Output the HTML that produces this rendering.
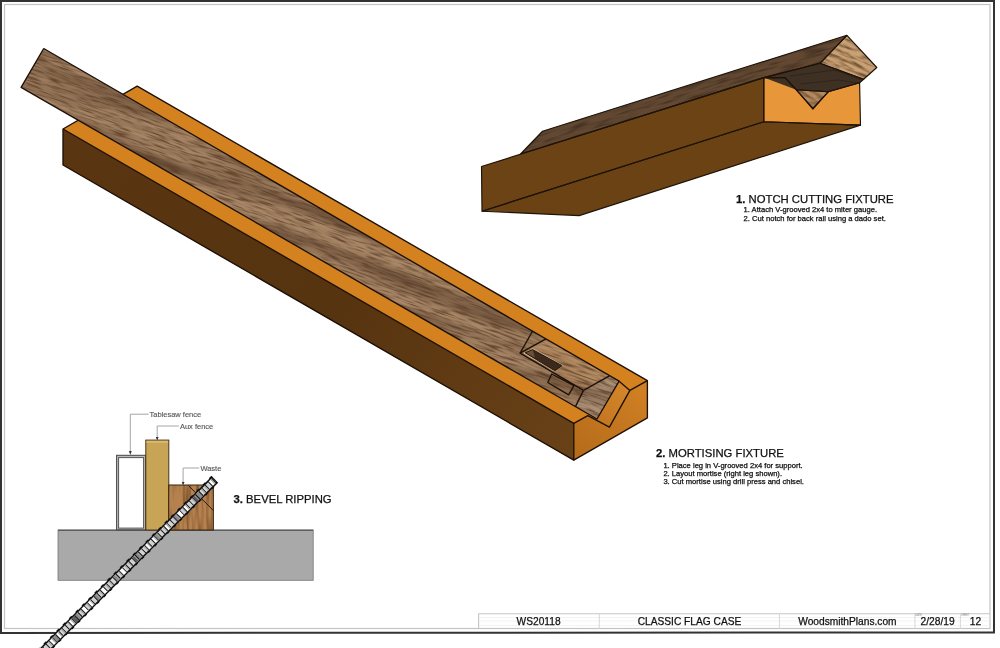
<!DOCTYPE html>
<html><head><meta charset="utf-8">
<style>
html,body{margin:0;padding:0;background:#fff;}
body{width:1000px;height:648px;overflow:hidden;position:relative;}
svg{position:absolute;left:0;top:0;display:block;will-change:transform;}
text{font-family:"Liberation Sans", sans-serif;}
</style></head>
<body>
<svg width="1000" height="648" viewBox="0 0 1000 648">
<defs>
  <filter id="fGrainA" x="-400" y="-400" width="1800" height="1800" filterUnits="userSpaceOnUse" color-interpolation-filters="sRGB">
    <feTurbulence type="fractalNoise" baseFrequency="0.005 0.06" numOctaves="2" seed="2" result="t1"/>
    <feColorMatrix in="t1" type="matrix" values="0 0 0 0 0  0 0 0 0 0  0 0 0 0 0  1.6 0 0 0 -0.62" result="a1"/>
    <feFlood flood-color="#4a3220" result="f1"/>
    <feComposite in="f1" in2="a1" operator="in" result="l1"/>
    <feTurbulence type="fractalNoise" baseFrequency="0.05 0.6" numOctaves="2" seed="7" result="t"/>
    <feComponentTransfer in="t" result="c">
      <feFuncR type="table" tableValues="0 0 0 0 0.15 0.6 0.95 1 1"/>
    </feComponentTransfer>
    <feColorMatrix in="c" type="matrix" values="0 0 0 0 0  0 0 0 0 0  0 0 0 0 0  0.8 0 0 0 0" result="a"/>
    <feFlood flood-color="#553722"/>
    <feComposite in2="a" operator="in" result="l2"/>
    <feMerge><feMergeNode in="l1"/><feMergeNode in="l2"/></feMerge>
  </filter>
  <clipPath id="cLegM"><polygon points="43.7,48.5 619.1,381.2 597,419 21.1,87.3"/></clipPath>
  <filter id="fGrainW" x="-400" y="-400" width="1800" height="1800" filterUnits="userSpaceOnUse" color-interpolation-filters="sRGB">
    <feTurbulence type="fractalNoise" baseFrequency="0.3 0.025" numOctaves="2" seed="11" result="t"/>
    <feColorMatrix in="t" type="matrix" values="0 0 0 0 0  0 0 0 0 0  0 0 0 0 0  1.8 0 0 0 -0.72" result="a"/>
    <feFlood flood-color="#6e4524"/>
    <feComposite in2="a" operator="in"/>
  </filter>
  <clipPath id="cWaste"><rect x="168.7" y="485" width="44.7" height="45"/></clipPath>
  <filter id="fGrainB" x="-400" y="-400" width="1800" height="1800" filterUnits="userSpaceOnUse" color-interpolation-filters="sRGB">
    <feTurbulence type="fractalNoise" baseFrequency="0.04 0.5" numOctaves="2" seed="3" result="t"/>
    <feComponentTransfer in="t" result="c">
      <feFuncR type="table" tableValues="0 0 0 0 0.15 0.6 0.95 1 1"/>
    </feComponentTransfer>
    <feColorMatrix in="c" type="matrix" values="0 0 0 0 0  0 0 0 0 0  0 0 0 0 0  0.7 0 0 0 0" result="a"/>
    <feFlood flood-color="#3a281a"/>
    <feComposite in2="a" operator="in"/>
  </filter>
  <filter id="fGrainC" x="-400" y="-400" width="1800" height="1800" filterUnits="userSpaceOnUse" color-interpolation-filters="sRGB">
    <feTurbulence type="fractalNoise" baseFrequency="0.05 0.3" numOctaves="3" seed="5" result="t"/>
    <feColorMatrix in="t" type="matrix" values="0 0 0 0 0  0 0 0 0 0  0 0 0 0 0  2.6 0 0 0 -1.05" result="a"/>
    <feFlood flood-color="#6a4a2a"/>
    <feComposite in2="a" operator="in"/>
  </filter>
  <clipPath id="cLegN"><polygon points="520.6,154 542.5,131.25 846.9,35.3 819.9,63.3 763.8,77.6"/></clipPath>
  <clipPath id="cEndN"><polygon points="846.9,35.3 876.8,67.5 863.6,79.3 819.9,63.3"/><polygon points="796.3,89.7 828.2,91.8 812.9,109.2"/></clipPath>
  <linearGradient id="gFront" gradientUnits="userSpaceOnUse" x1="63" y1="150" x2="573" y2="440">
    <stop offset="0" stop-color="#593511"/><stop offset="0.55" stop-color="#573410"/><stop offset="1" stop-color="#684117"/>
  </linearGradient>
  <linearGradient id="gEnd" gradientUnits="userSpaceOnUse" x1="640" y1="385" x2="580" y2="455">
    <stop offset="0" stop-color="#d08024"/><stop offset="1" stop-color="#b66c1a"/>
  </linearGradient>
  <linearGradient id="gEnd2" gradientUnits="userSpaceOnUse" x1="625" y1="385" x2="600" y2="425">
    <stop offset="0" stop-color="#d4862a"/><stop offset="1" stop-color="#c27620"/>
  </linearGradient>
</defs>
<rect x="0" y="0" width="1000" height="648" fill="#fff"/>

<!-- sheet borders -->
<path d="M1,633 V1 H994 V632.5 Z" fill="none" stroke="#333" stroke-width="2"/>
<rect x="4.5" y="4.5" width="985.5" height="624" fill="none" stroke="#c4c4c4" stroke-width="1.2"/>

<!-- ============ MORTISING FIXTURE ============ -->
<g stroke="none">
  <polygon points="63,129 137.2,86.2 647.4,380.7 647.4,417.8 573.8,460.2 63,165" fill="#c8781e"/>
  <polygon points="63,129 573.8,423.3 573.8,460.2 63,165" fill="url(#gFront)"/>
  <polygon points="63,129 137.2,86.2 647.4,380.7 573.8,423.3" fill="#d4821f"/>
  <polygon points="573.8,423.3 587.8,415.7 609.4,427.1 629.9,390.4 647.4,380.7 647.4,417.8 573.8,460.2" fill="url(#gEnd)"/>
  <polygon points="619.1,381.2 629.9,390.4 609.4,427.1 597,419" fill="url(#gEnd2)"/>
</g>
<g stroke="#1c1008" stroke-width="1.35" stroke-linejoin="round" fill="none">
  <polygon points="63,129 137.2,86.2 647.4,380.7 647.4,417.8 573.8,460.2 63,165"/>
  <polyline points="63,129 573.8,423.3 573.8,460.2"/>
  <polyline points="573.8,423.3 587.8,415.7 609.4,427.1 629.9,390.4 647.4,380.7"/>
  <polyline points="619.1,381.2 629.9,390.4"/>
</g>
<g stroke="none">
  <polygon points="43.7,48.5 619.1,381.2 597,419 21.1,87.3" fill="#a88767"/>
  <polygon points="583.5,390.4 609.4,375.8 619.1,381.2 597,419 575.4,406.6" fill="#ad9276"/>
  <polygon points="546,338.9 609.4,375.8 583.5,390.4 520.1,353.2" fill="#bb9268"/>
  <polygon points="532.6,331 546,338.9 520.1,353.2" fill="#a4835f"/>
  <polygon points="551.7,374 574,385.6 568.6,394.8 547.8,382.5" fill="#a88662"/>
  <g clip-path="url(#cLegM)"><g transform="translate(21,87) rotate(19)"><rect x="-50" y="-100" width="760" height="220" fill="#000" filter="url(#fGrainA)"/></g></g>
  <!-- mortise -->
  <polygon points="523.5,353.3 532.8,348.3 563.5,365.6 554.4,371.6" fill="#e0c29a"/>
  <polygon points="525.2,352.8 532.6,349.5 562.2,365.7 554.8,370.8" fill="#3b2a1c"/>
  <polygon points="525.2,352.8 532.6,349.5 535,357.5" fill="#6a5038"/>
</g>
<g stroke="#1c1008" stroke-width="1.35" stroke-linejoin="round" fill="none">
  <polyline points="43.7,48.5 619.1,381.2 597,419 21.1,87.3 43.7,48.5"/>
  <polyline points="583.5,390.4 609.4,375.8"/>
  <polyline points="583.5,390.4 575.4,406.6"/>
  <polyline points="546,338.9 520.1,353.2 583.5,390.4"/>
  <polyline points="532.6,331 520.1,353.2"/>
  <polygon points="551.7,374 574,385.6 568.6,394.8 547.8,382.5"/>
  <polygon points="525.2,352.8 532.6,349.5 562.2,365.7 554.8,370.8" stroke-width="0.9"/>
</g>

<!-- ============ NOTCH CUTTING FIXTURE ============ -->
<g stroke="none">
  <polygon points="482,211.2 579.2,215.6 860.5,125.1 763.8,121.7" fill="#6a4214"/>
  <polygon points="481.5,166.5 763.8,77.6 763.8,121.7 482,211.2" fill="#6c4315"/>
  <polygon points="520.6,154 542.5,131.25 846.9,35.3 819.9,63.3 763.8,77.6" fill="#634933"/>
  <g clip-path="url(#cLegN)"><g transform="translate(520,154) rotate(-17.5)"><rect x="-20" y="-40" width="380" height="60" fill="#000" filter="url(#fGrainB)"/></g></g>
  <polygon points="763.8,77.6 785,77.6 812.9,108.1 828.2,91.8 859.6,82.7 860.5,125.1 763.8,121.7" fill="#e8963a"/>
  <polygon points="763.8,77.6 819.9,63.3 863.6,79.3 859.6,82.7 828.2,91.8 796.3,89.7" fill="#3f3024"/>
  <polygon points="796.3,89.7 828.2,91.8 812.9,109.2" fill="#b48a62"/>
  <polygon points="846.9,35.3 876.8,67.5 863.6,79.3 819.9,63.3" fill="#c9a176"/>
  <g clip-path="url(#cEndN)"><g transform="translate(790,30) rotate(22)"><rect x="-40" y="-60" width="160" height="160" fill="#000" filter="url(#fGrainC)"/></g></g>
  <polyline points="790,76 835,70 861,80" fill="none" stroke="#2a1f16" stroke-width="0.7"/>
  <polyline points="800,84 838,80 858,83" fill="none" stroke="#2a1f16" stroke-width="0.7"/>
</g>
<g stroke="#1e1309" stroke-width="1.15" stroke-linejoin="round" fill="none">
  <polygon points="482,211.2 579.2,215.6 860.5,125.1 763.8,121.7"/>
  <polygon points="481.5,166.5 763.8,77.6 763.8,121.7 482,211.2"/>
  <polygon points="520.6,154 542.5,131.25 846.9,35.3 819.9,63.3 763.8,77.6"/>
  <polygon points="763.8,77.6 785,77.6 812.9,108.1 828.2,91.8 859.6,82.7 860.5,125.1 763.8,121.7"/>
  <polygon points="763.8,77.6 819.9,63.3 863.6,79.3 859.6,82.7 828.2,91.8 796.3,89.7 785,77.6"/>
  <polygon points="796.3,89.7 828.2,91.8 812.9,109.2"/>
  <polygon points="846.9,35.3 876.8,67.5 863.6,79.3 819.9,63.3"/>
</g>

<!-- ============ BEVEL RIPPING ============ -->
<rect x="58" y="530" width="255.2" height="50.3" fill="#a9a9a9" stroke="#777" stroke-width="0.8"/>
<line x1="58" y1="530.2" x2="313.2" y2="530.2" stroke="#444" stroke-width="1"/>
<rect x="116.6" y="455.3" width="29" height="74.5" fill="#bdbdbd" stroke="#444" stroke-width="1"/>
<rect x="118.6" y="457.6" width="25" height="70.5" fill="#fff" stroke="#555" stroke-width="1"/>
<rect x="145.8" y="440.1" width="23" height="89.9" fill="#c8a456" stroke="#4a3518" stroke-width="1"/>
<rect x="146.5" y="440.8" width="21.6" height="2" fill="#d9bc70"/>
<g clip-path="url(#cWaste)">
<rect x="168.7" y="485" width="44.7" height="45" fill="#b5824f"/>
<rect x="168.7" y="485" width="44.7" height="45" fill="#000" filter="url(#fGrainW)"/>
</g>
<rect x="168.7" y="485" width="44.7" height="45" fill="none" stroke="#3a2510" stroke-width="1"/>
<line x1="188.3" y1="485.4" x2="213.6" y2="510.7" stroke="#2a1a0a" stroke-width="1"/>
<!-- blade -->
<g stroke-linecap="butt">
<line x1="212" y1="476.5" x2="34.5" y2="654" stroke="#151515" stroke-width="2" stroke-dasharray="3.5 5.5"/>
<line x1="217" y1="483.5" x2="39.5" y2="661" stroke="#151515" stroke-width="1.6" stroke-dasharray="3 6" stroke-dashoffset="4.5"/>
<line x1="215" y1="479.5" x2="37.5" y2="657" stroke="#0c0c0c" stroke-width="9"/>
<line x1="214" y1="480.5" x2="37.5" y2="657" stroke="#d2d2d2" stroke-width="6"/>
<line x1="214" y1="480.5" x2="37.5" y2="657" stroke="#ffffff" stroke-width="6" stroke-dasharray="4.5 4.5 0 9 4.5 9 0 4.5 4.5 4.5"/>
<line x1="214" y1="480.5" x2="37.5" y2="657" stroke="#8a8a8a" stroke-width="6" stroke-dasharray="0 18 4.5 27 4.5 9 0 13.5 4.5 4.5"/>
<line x1="214" y1="480.5" x2="37.5" y2="657" stroke="#5e5e5e" stroke-width="6" stroke-dasharray="0 22.5 4.5 58.5"/>
<line x1="214" y1="480.5" x2="37.5" y2="657" stroke="#a8a8a8" stroke-width="6" stroke-dasharray="0 1.2 1 3.5 0 4.5 1 2.3"/>
<line x1="214" y1="480.5" x2="37.5" y2="657" stroke="#111" stroke-width="6" stroke-dasharray="0.9 3.6"/>
</g>
<!-- labels -->
<g stroke="#9a9a9a" stroke-width="0.9" fill="none">
  <polyline points="148.6,414.2 130.3,414.2 130.3,452.5"/>
  <polyline points="178.8,426 157.2,426 157.2,438.5"/>
  <polyline points="199.3,468 183.1,468 183.1,483.5"/>
</g>
<g fill="#333">
  <polygon points="128.9,451 131.7,451 130.3,455"/>
  <polygon points="155.8,437 158.6,437 157.2,440.5"/>
  <polygon points="181.7,482 184.5,482 183.1,485.5"/>
</g>
<g font-size="7.5" fill="#555" stroke="#555" stroke-width="0.12">
  <text x="149.5" y="416.8">Tablesaw fence</text>
  <text x="179.9" y="428.6">Aux fence</text>
  <text x="200.4" y="470.7">Waste</text>
</g>

<!-- titles -->
<g fill="#111" stroke="#111" stroke-width="0.25">
  <text x="736" y="202.8" font-size="11.3"><tspan font-weight="bold">1.</tspan> NOTCH CUTTING FIXTURE</text>
  <text x="743.6" y="212" font-size="7.6" fill="#0a0a0a">1. Attach V-grooved 2x4 to miter gauge.</text>
  <text x="743.6" y="220.5" font-size="7.6" fill="#0a0a0a">2. Cut notch for back rail using a dado set.</text>
  <text x="656" y="457" font-size="11.3"><tspan font-weight="bold">2.</tspan> MORTISING FIXTURE</text>
  <text x="663.4" y="467.6" font-size="7.6" fill="#0a0a0a">1. Place leg in V-grooved 2x4 for support.</text>
  <text x="663.4" y="475.6" font-size="7.6" fill="#0a0a0a">2. Layout mortise (right leg shown).</text>
  <text x="663.4" y="483.6" font-size="7.6" fill="#0a0a0a">3. Cut mortise using drill press and chisel.</text>
  <text x="233.5" y="503.4" font-size="11.3"><tspan font-weight="bold">3.</tspan> BEVEL RIPPING</text>
</g>

<!-- title block -->
<g stroke="#f0f0f0" stroke-width="0.8">
  <line x1="479" y1="617.5" x2="989.5" y2="617.5"/>
  <line x1="479" y1="621" x2="989.5" y2="621"/>
  <line x1="479" y1="625.5" x2="989.5" y2="625.5"/>
</g>
<g stroke="#c6c6c6" stroke-width="1.1" fill="none">
  <polyline points="478.6,628.5 478.6,613.7 990,613.7"/>
  <line x1="599.3" y1="613.7" x2="599.3" y2="628.5" stroke="#dadada"/>
  <line x1="779.4" y1="613.7" x2="779.4" y2="628.5" stroke="#dadada"/>
  <line x1="914.9" y1="613.7" x2="914.9" y2="628.5" stroke="#dadada"/>
  <line x1="960.4" y1="613.7" x2="960.4" y2="628.5" stroke="#dadada"/>
</g>
<g fill="#111" stroke="#111" stroke-width="0.25" font-size="10.2" text-anchor="middle">
  <text x="538.6" y="625.2">WS20118</text>
  <text x="689.5" y="625.2">CLASSIC FLAG CASE</text>
  <text x="847.4" y="625.2">WoodsmithPlans.com</text>
  <text x="937.6" y="625.2">2/28/19</text>
  <text x="975.5" y="625.2">12</text>
</g>
<g fill="#888" font-size="2.6">
  <text x="915.3" y="616">DATE</text>
  <text x="961" y="616">SHEET</text>
</g>
</svg>
</body></html>
